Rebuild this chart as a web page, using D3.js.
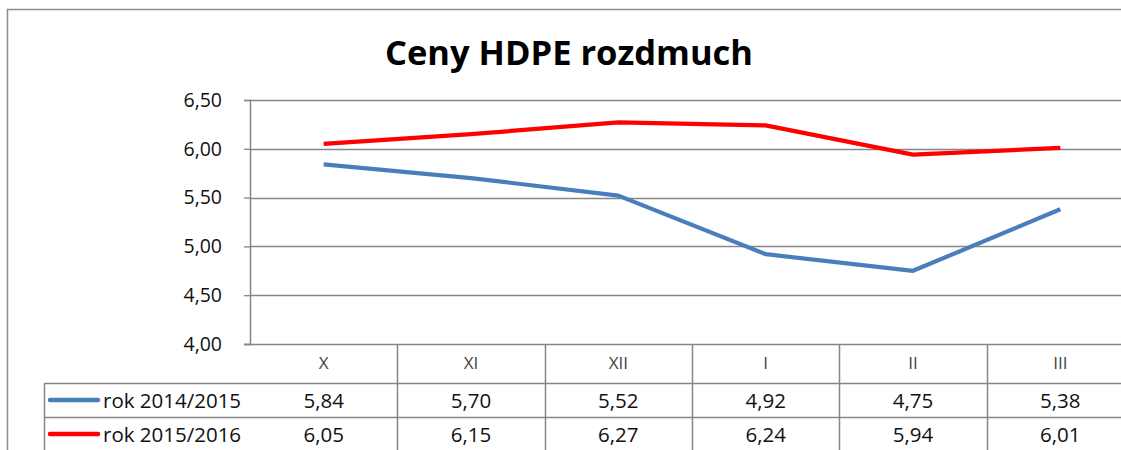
<!DOCTYPE html>
<html>
<head>
<meta charset="utf-8">
<script src="https://cdn.jsdelivr.net/npm/d3@7"></script>
<style>
  body { margin: 0; background: #fff; }
  svg { display: block; font-family: "Open Sans", sans-serif; }
</style>
</head>
<body>
<svg id="chart" width="1121" height="450"></svg>
<script>
// chart data
const months = ['X', 'XI', 'XII', 'I', 'II', 'III'];
const seriesNames = ['rok 2014/2015', 'rok 2015/2016'];
const values2014 = [5.84, 5.70, 5.52, 4.92, 4.75, 5.38];
const values2015 = [6.05, 6.15, 6.27, 6.24, 5.94, 6.01];
const yTicks = [4.0, 4.5, 5.0, 5.5, 6.0, 6.5];
const seriesColors = ['#4a7ebb', '#ff0000'];

const series = [values2014, values2015];

const W = 1121, H = 450;
const plot = { left: 250, right: 1134, top: 100, bottom: 344 };
const rowH = [39, 34, 34];

const svg = d3.select('#chart');
const fmt = v => d3.format('.2f')(v).replace('.', ',');

// outer chart border
svg.append('rect')
    .attr('x', 7.5).attr('y', 9.5)
    .attr('width', W + 20).attr('height', H + 20)
    .attr('fill', 'none').attr('stroke', '#8c8c8c').attr('stroke-width', 1.5);

svg.append('text')
    .attr('x', 569).attr('y', 65)
    .attr('text-anchor', 'middle')
    .attr('font-size', 34).attr('font-weight', 700)
    .attr('fill', '#000')
    .attr('textLength', 368).attr('lengthAdjust', 'spacingAndGlyphs')
    .text('Ceny HDPE rozdmuch');

const x = d3.scaleBand().domain(months).range([plot.left, plot.right]);
const y = d3.scaleLinear().domain([4, 6.5]).range([plot.bottom, plot.top]);

// gridlines
svg.append('g')
    .selectAll('line')
    .data(yTicks.slice(1))
    .join('line')
        .attr('x1', plot.left).attr('x2', W)
        .attr('y1', d => Math.round(y(d)) + 0.5).attr('y2', d => Math.round(y(d)) + 0.5)
        .attr('stroke', '#868686').attr('stroke-width', 1.3);

// y axis
const yAxis = svg.append('g')
    .attr('transform', `translate(${plot.left},0)`)
    .call(d3.axisLeft(y).tickValues(yTicks).tickSize(6).tickPadding(22).tickFormat(fmt));
yAxis.select('.domain').attr('stroke', '#868686').attr('stroke-width', 1.5);
yAxis.selectAll('.tick line').attr('stroke', '#868686').attr('stroke-width', 1.3);
yAxis.selectAll('.tick text')
    .attr('font-size', 19.5).attr('fill', '#111')
    .attr('font-family', '"Open Sans", sans-serif');

// data table
const tableTop = plot.bottom;
const rowY = [tableTop, tableTop + rowH[0], tableTop + rowH[0] + rowH[1], tableTop + rowH[0] + rowH[1] + rowH[2]];
const table = svg.append('g');

table.selectAll('line.h')
    .data([0, 1, 2])
    .join('line')
        .attr('x1', (d, i) => i === 0 ? plot.left - 6 : 44).attr('x2', W)
        .attr('y1', d => rowY[d] + 0.5).attr('y2', d => rowY[d] + 0.5)
        .attr('stroke', '#868686').attr('stroke-width', 1.5);

const colEdges = months.map(m => x(m)).concat([plot.right]);
table.selectAll('line.v')
    .data(colEdges.slice(1))
    .join('line')
        .attr('x1', d => Math.round(d) + 0.5).attr('x2', d => Math.round(d) + 0.5)
        .attr('y1', rowY[0]).attr('y2', H)
        .attr('stroke', '#868686').attr('stroke-width', 1.5);

table.append('line')
    .attr('x1', 44.5).attr('x2', 44.5)
    .attr('y1', rowY[1]).attr('y2', H)
    .attr('stroke', '#868686').attr('stroke-width', 1.5);

table.selectAll('text.cat')
    .data(months)
    .join('text')
        .attr('x', d => x(d) + x.bandwidth() / 2)
        .attr('y', rowY[0] + 25)
        .attr('text-anchor', 'middle')
        .attr('font-size', 17).attr('fill', '#444')
        .text(d => d);

series.forEach((vals, si) => {
    const cy = (rowY[si + 1] + rowY[si + 2]) / 2;
    table.append('line')
        .attr('x1', 50).attr('x2', 98)
        .attr('y1', cy).attr('y2', cy)
        .attr('stroke', seriesColors[si]).attr('stroke-width', 4.5)
        .attr('stroke-linecap', 'round');
    table.append('text')
        .attr('x', 103).attr('y', cy + 7.5)
        .attr('font-size', 20.5).attr('fill', '#111')
        .text(seriesNames[si]);
    table.selectAll(null)
        .data(vals)
        .join('text')
            .attr('x', (d, i) => x(months[i]) + x.bandwidth() / 2)
            .attr('y', cy + 7.5)
            .attr('text-anchor', 'middle')
            .attr('font-size', 20.5).attr('fill', '#111')
            .text(fmt);
});

// lines
const line = d3.line()
    .x((d, i) => x(months[i]) + x.bandwidth() / 2)
    .y(d => y(d));

svg.append('g')
    .selectAll('path')
    .data(series)
    .join('path')
        .attr('d', line)
        .attr('fill', 'none')
        .attr('stroke', (d, i) => seriesColors[i])
        .attr('stroke-width', 4.2)
        .attr('stroke-linejoin', 'round');
</script>
</body>
</html>
